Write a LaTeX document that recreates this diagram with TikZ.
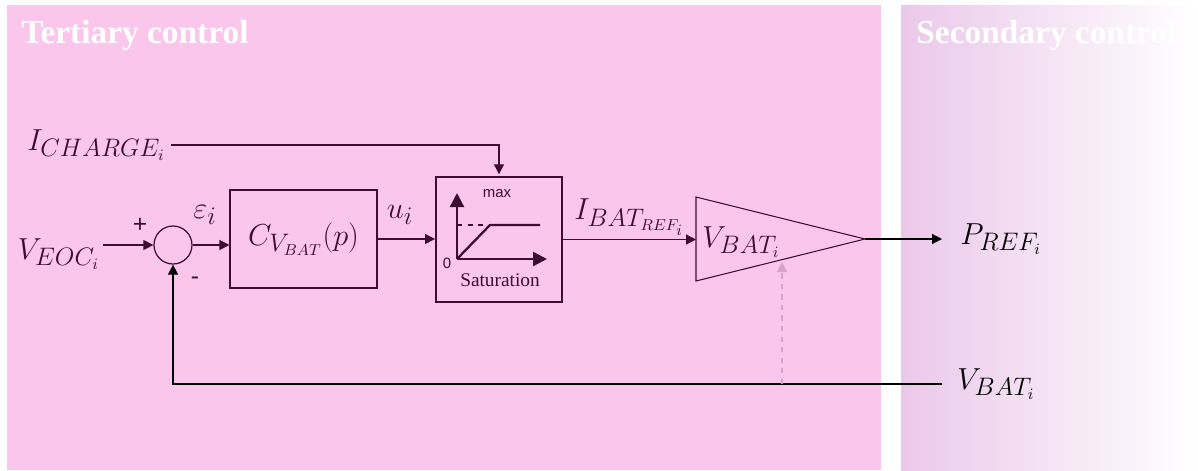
\documentclass[tikz,border=0pt]{standalone}
\usepackage{fontspec}
\usetikzlibrary{positioning, arrows.meta}
\newfontfamily\titlefont{Liberation Serif}
\newfontfamily\signfont{Liberation Sans}
\definecolor{plum}{HTML}{3D0C33}
\definecolor{tertiary}{HTML}{FBC6EC}
\definecolor{secondary}{HTML}{EBC8EA}
\definecolor{probe}{HTML}{D6A3CC}

\begin{document}
\begin{tikzpicture}[font=\fontsize{19}{21}\selectfont,
    signal/.style={draw=plum, line width=0.7pt, -{Triangle[length=2mm, width=2mm]}},
    axis/.style={draw=plum, line width=1.3pt, -{Triangle[length=2.8mm, width=2.8mm]}}]
                \useasboundingbox (0,0) rectangle (23.96,-9.4);
                \fill[tertiary] (0.14,-0.1) rectangle (17.62,-9.4);
                \shade[left color=secondary, right color=white] (18.02,-0.1) rectangle (23.96,-9.4);
                \node[anchor=base west, text=white, inner sep=0, font=\titlefont\bfseries\fontsize{19}{21}\selectfont] (Tertiary) at (0.42,-0.87) {Tertiary control};
                \node[anchor=base west, text=white, inner sep=0, font=\titlefont\bfseries\fontsize{19}{21}\selectfont] (Secondary) at (18.32,-0.87) {Secondary control};

                \node[anchor=west, text=plum, inner xsep=0.1cm, inner ysep=0] (Icharge) at (0.44,-2.9) {$I_{CHARGE_i}$};
                \node[anchor=base east, text=plum, inner xsep=0.06cm, inner ysep=0] (Veoc) at (2.06,-5.18) {$V_{EOC_i}$};
                \node[circle, draw=plum, line width=0.7pt, minimum size=0.76cm, inner sep=0] (Sum) at (3.46,-4.9) {};
                \node[text=plum, font=\signfont\fontsize{14}{16}\selectfont] (Plus) at (2.8,-4.5) {+};
                \node[text=plum, font=\signfont\fontsize{14}{16}\selectfont] (Minus) at (3.9,-5.62) {-};
                \node[text=plum] (Error) at (4.1,-4.3) {$\varepsilon_i$};
                \node[draw=plum, line width=0.6pt, text=plum, minimum width=2.94cm, minimum height=1.96cm] (Controller) at (6.07,-4.78) {$C_{V_{BAT}}(p)$};
                \node[text=plum] (Command) at (8.0,-4.3) {$u_i$};
                \node[draw=plum, line width=1.1pt, minimum width=2.52cm, minimum height=2.5cm] (Saturation) at (9.98,-4.79) {};

                \draw[axis] (9.14,-5.18) -- (9.14,-3.86);
                \draw[axis] (9.14,-5.18) -- (10.94,-5.18);
                \draw[plum, line width=1.1pt, dashed] (9.14,-4.5) -- (9.8,-4.5);
                \draw[plum, line width=1.3pt] (9.14,-5.18) -- (9.8,-4.5) -- (10.8,-4.5);
                \node[text=plum, font=\signfont\fontsize{8.5}{9}\selectfont] (Max) at (9.94,-3.88) {max};
                \node[text=plum, font=\signfont\fontsize{8.5}{9}\selectfont] (Zero) at (8.94,-5.26) {0};
                \node[text=plum, font=\titlefont\fontsize{11}{12}\selectfont] (Sat label) at (10.0,-5.6) {Saturation};

                \coordinate (Gain top) at (13.92,-3.94);
                \coordinate (Gain bottom) at (13.92,-5.62);
                \coordinate (Gain out) at (17.3,-4.78);
                \draw[plum, line width=0.6pt] (Gain top) -- (Gain out) -- (Gain bottom) -- cycle;
                \node[anchor=base west, text=plum, inner sep=0] (Gain) at (14.04,-4.94) {$V_{BAT_i}$};

                \node[anchor=west, inner xsep=0.36cm] (Pref) at (18.84,-4.78) {$P_{REF_i}$};
                \node[anchor=west, inner xsep=0.3cm] (Vbat) at (18.84,-7.68) {$V_{BAT_i}$};
                \coordinate (Probe) at (15.64,-7.68);
                \coordinate (Probe tip) at (15.64,-5.24);

                \draw[signal, shorten >=1pt] (Icharge.east) -| (Saturation.north);
                \draw[signal] (Veoc.east |- Sum.west) -- (Sum.west);
                \draw[signal] (Sum.east) -- (Sum.east -| Controller.west);
                \draw[signal] (Controller.east) -- (Controller.east -| Saturation.west);
                \draw[signal] (Saturation.east) -- (Saturation.east -| Gain top) node[midway, above, text=plum, inner sep=2pt] (Iref) {$I_{BAT_{REF_i}}$};
                \draw[signal, draw=black] (Gain out) -- (Pref.west);
                \draw[signal, draw=black] (Vbat.west) -| (Sum.south);
                \draw[probe, line width=0.7pt, dashed, -{Triangle[length=2mm, width=2mm]}] (Probe) -- (Probe tip);

            \end{tikzpicture}
\end{document}
